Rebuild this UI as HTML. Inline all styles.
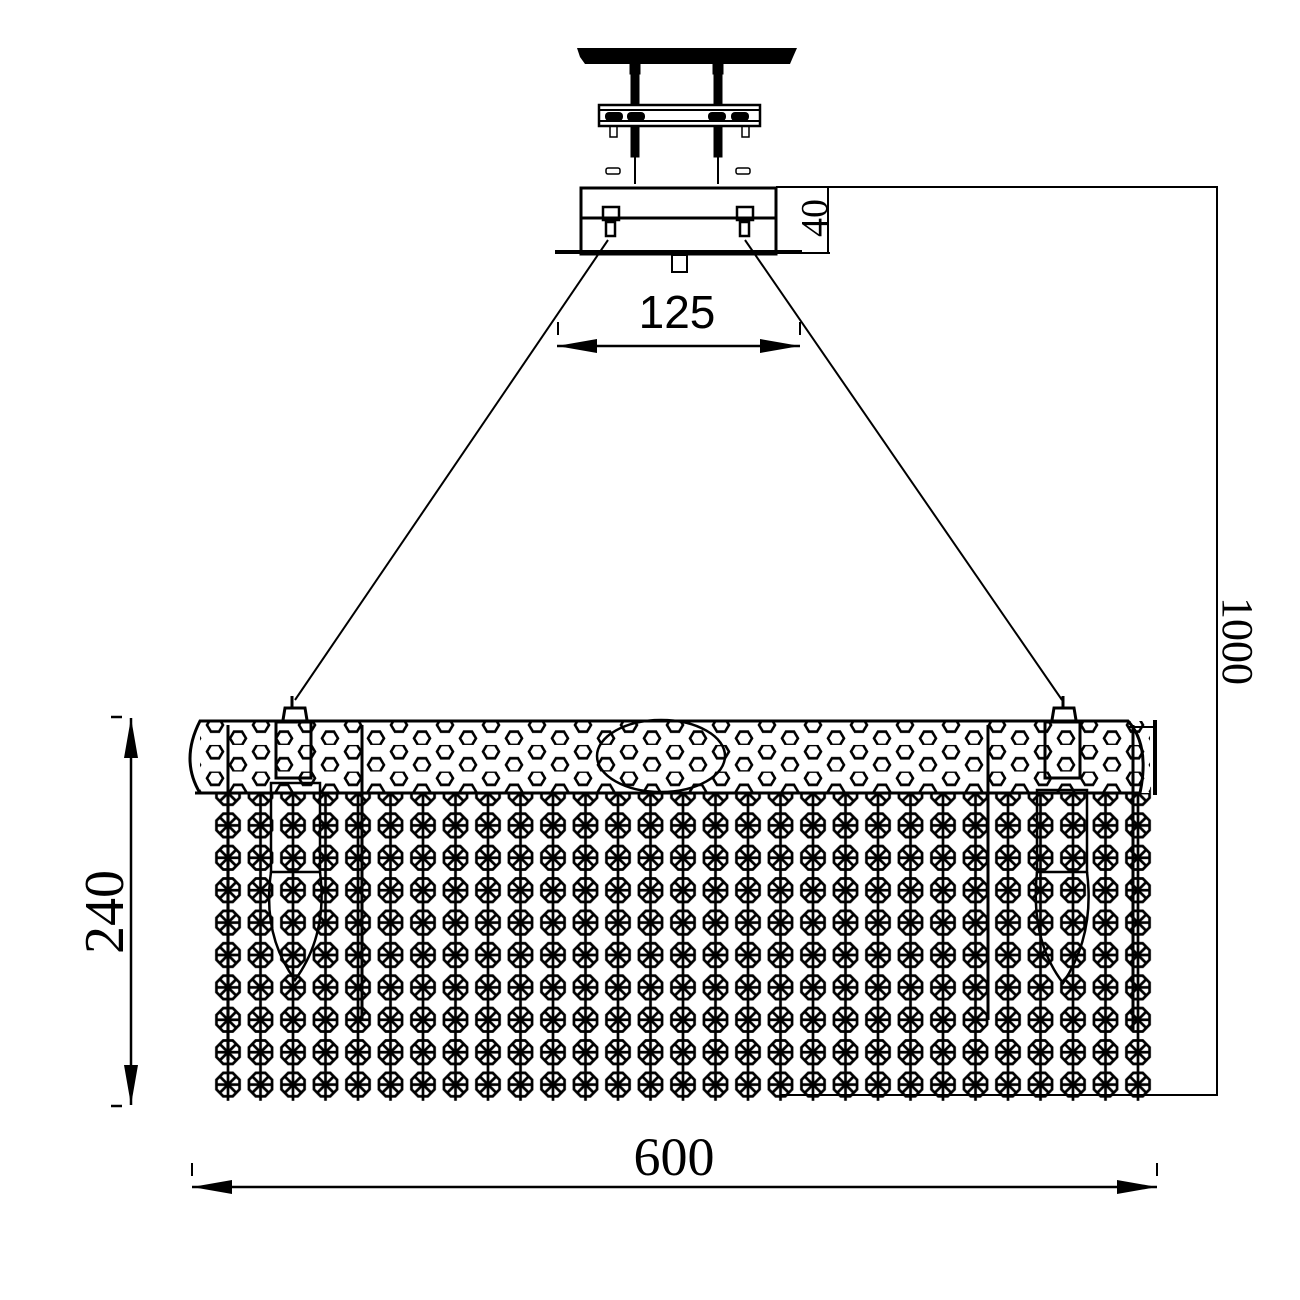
<!DOCTYPE html>
<html><head><meta charset="utf-8"><style>html,body{margin:0;padding:0;background:#fff}svg{display:block}</style></head>
<body>
<svg width="1300" height="1300" viewBox="0 0 1300 1300" xmlns="http://www.w3.org/2000/svg">
<defs>
<pattern id="oct" patternUnits="userSpaceOnUse" x="211.75" y="776.8" width="32.5" height="32.4">
 <g fill="none" stroke="#000" stroke-width="2.7">
  <line x1="16.25" y1="0" x2="16.25" y2="32.4"/>
  <polygon points="27.8,21 21,27.9 11.5,27.9 4.7,21 4.7,11.4 11.5,4.5 21,4.5 27.8,11.4"/>
  <line x1="4" y1="16.2" x2="28.5" y2="16.2"/>
  <line x1="7.6" y1="7.6" x2="24.9" y2="24.8"/>
  <line x1="24.9" y1="7.6" x2="7.6" y2="24.8"/>
 </g>
</pattern>
<pattern id="hex" patternUnits="userSpaceOnUse" x="560" y="718.35" width="46" height="26.6">
 <g fill="none" stroke="#000" stroke-width="2.6">
  <polygon points="31,6.65 27,0 19,0 15,6.65 19,13.3 27,13.3"/>
  <polygon points="8,19.95 4,13.3 -4,13.3 -8,19.95 -4,26.6 4,26.6"/>
  <polygon points="54,19.95 50,13.3 42,13.3 38,19.95 42,26.6 50,26.6"/>
 </g>
</pattern>
</defs>

<!-- ceiling top -->
<path d="M577,48 L797,48 L793,57 L790,64 L585,64 L580,57 Z" fill="#000"/>
<g stroke="#000" fill="#000">
 <rect x="630" y="64" width="10" height="10"/><rect x="713" y="64" width="10" height="10"/>
 <rect x="631" y="74" width="8" height="30"/><rect x="714" y="74" width="8" height="30"/>
 <rect x="631" y="127" width="8" height="30"/><rect x="714" y="127" width="8" height="30"/>
 <line x1="635" y1="157" x2="635" y2="184" stroke-width="2"/><line x1="718" y1="157" x2="718" y2="184" stroke-width="2"/>
</g>
<rect x="599" y="105" width="161" height="21" fill="none" stroke="#000" stroke-width="2.5"/>
<line x1="599" y1="110" x2="760" y2="110" stroke="#000" stroke-width="2"/>
<line x1="599" y1="121" x2="760" y2="121" stroke="#000" stroke-width="2"/>
<g fill="#000"><rect x="605" y="112" width="18" height="9" rx="4"/><rect x="627" y="112" width="18" height="9" rx="4"/><rect x="708" y="112" width="18" height="9" rx="4"/><rect x="731" y="112" width="18" height="9" rx="4"/></g>
<g fill="none" stroke="#000" stroke-width="1.5"><rect x="610" y="126" width="7" height="11"/><rect x="742" y="126" width="7" height="11"/>
<rect x="606" y="168" width="14" height="6" rx="2"/><rect x="736" y="168" width="14" height="6" rx="2"/></g>

<!-- canopy -->
<rect x="581" y="188" width="195" height="66" fill="none" stroke="#000" stroke-width="3"/>
<line x1="581" y1="218" x2="776" y2="218" stroke="#000" stroke-width="3"/>
<line x1="555" y1="252" x2="802" y2="252" stroke="#000" stroke-width="4"/>
<rect x="672" y="255" width="15" height="17" fill="none" stroke="#000" stroke-width="2"/>
<g fill="none" stroke="#000" stroke-width="2.5"><rect x="603" y="207" width="16" height="13"/><rect x="737" y="207" width="16" height="13"/><rect x="606" y="222" width="9" height="14"/><rect x="740" y="222" width="9" height="14"/></g>

<!-- dims top -->
<line x1="776" y1="187" x2="1218" y2="187" stroke="#000" stroke-width="2"/>
<line x1="828" y1="187" x2="828" y2="254" stroke="#000" stroke-width="2"/>
<line x1="802" y1="253" x2="830" y2="253" stroke="#000" stroke-width="2"/>
<text transform="translate(827,218) rotate(-90)" text-anchor="middle" font-family="Liberation Serif,serif" font-size="38">40</text>
<line x1="1217" y1="187" x2="1217" y2="1095" stroke="#000" stroke-width="2"/>
<line x1="780" y1="1095" x2="1218" y2="1095" stroke="#000" stroke-width="2"/>
<text transform="translate(1223,641) rotate(90)" text-anchor="middle" font-family="Liberation Serif,serif" font-size="44">1000</text>

<line x1="557" y1="346" x2="800" y2="346" stroke="#000" stroke-width="2.5"/>
<path d="M557,346 L597,339 L597,353 Z M800,346 L760,339 L760,353 Z" fill="#000"/>
<line x1="558" y1="322" x2="558" y2="335" stroke="#000" stroke-width="2"/>
<line x1="800" y1="322" x2="800" y2="335" stroke="#000" stroke-width="2"/>
<text x="677" y="328" text-anchor="middle" font-family="Liberation Sans,sans-serif" font-size="46">125</text>

<!-- cables -->
<line x1="608" y1="240" x2="295" y2="700" stroke="#000" stroke-width="2"/>
<line x1="745" y1="240" x2="1062" y2="700" stroke="#000" stroke-width="2"/>

<!-- crystals -->
<rect x="211.75" y="776.8" width="942.5" height="324" fill="url(#oct)"/>

<!-- band -->
<rect x="200" y="721" width="950" height="72" fill="#fff"/>
<rect x="200" y="721" width="950" height="72" fill="url(#hex)"/>
<path d="M200,721 L1128,721 Q1150,745 1140,793 L200,793 Q180,760 200,721 Z" fill="none" stroke="#000" stroke-width="3"/>
<line x1="195" y1="793" x2="1140" y2="793" stroke="#000" stroke-width="3"/>
<ellipse cx="661" cy="756" rx="64" ry="36" fill="none" stroke="#000" stroke-width="2.5"/>
<line x1="1155" y1="720" x2="1155" y2="795" stroke="#000" stroke-width="4"/>
<line x1="1128" y1="727" x2="1155" y2="727" stroke="#000" stroke-width="2"/>
<g fill="none" stroke="#000" stroke-width="3">
 <rect x="276" y="722" width="35" height="56"/><rect x="1045" y="722" width="35" height="56"/>
 <path d="M283,720 L285,708 L305,708 L307,720"/><path d="M1052,720 L1054,708 L1074,708 L1076,720"/>
 <line x1="292" y1="696" x2="292" y2="708"/><line x1="1063" y1="696" x2="1063" y2="708"/>
 <line x1="228" y1="725" x2="228" y2="1060"/><line x1="362" y1="725" x2="362" y2="1020"/>
 <line x1="988" y1="725" x2="988" y2="1020"/><line x1="1133" y1="725" x2="1133" y2="1030"/>
 <rect x="271" y="783" width="49" height="89" stroke-width="2.5"/>
 <rect x="1037" y="790" width="50" height="82" stroke-width="2.5"/>
 <path d="M271,872 Q262,935 295,980 Q328,935 320,872" stroke-width="2.5"/>
 <path d="M1037,872 Q1030,940 1063,983 Q1095,935 1087,872" stroke-width="2.5"/>
</g>

<!-- 240 -->
<line x1="131" y1="718" x2="131" y2="1105" stroke="#000" stroke-width="2.5"/>
<path d="M131,718 L124,758 L138,758 Z M131,1105 L124,1065 L138,1065 Z" fill="#000"/>
<line x1="111" y1="717" x2="122" y2="717" stroke="#000" stroke-width="2.5"/>
<line x1="111" y1="1106" x2="122" y2="1106" stroke="#000" stroke-width="2.5"/>
<text transform="translate(123,912) rotate(-90)" text-anchor="middle" font-family="Liberation Serif,serif" font-size="56">240</text>

<!-- 600 -->
<line x1="192" y1="1187" x2="1157" y2="1187" stroke="#000" stroke-width="2.5"/>
<path d="M192,1187 L232,1180 L232,1194 Z M1157,1187 L1117,1180 L1117,1194 Z" fill="#000"/>
<line x1="192" y1="1163" x2="192" y2="1176" stroke="#000" stroke-width="2"/>
<line x1="1157" y1="1163" x2="1157" y2="1176" stroke="#000" stroke-width="2"/>
<text x="674" y="1175" text-anchor="middle" font-family="Liberation Serif,serif" font-size="54">600</text>
</svg>
</body></html>
